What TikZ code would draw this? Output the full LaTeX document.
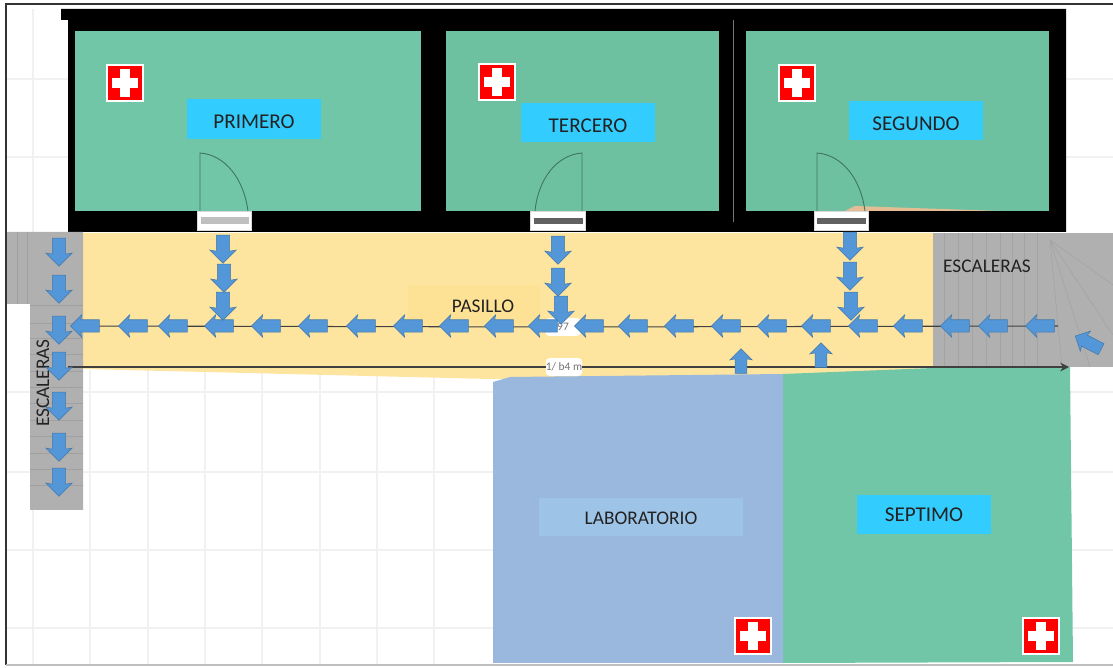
\documentclass[tikz,border=0pt]{standalone}
\usepackage{fontspec}
\setmainfont{Carlito}
\usetikzlibrary{arrows.meta}
\usetikzlibrary{shapes.arrows}
\definecolor{roomgreen}{HTML}{72C6A8}
\definecolor{roomgreenb}{HTML}{6EC1A0}
\definecolor{labblue}{HTML}{9AB7DD}
\definecolor{labbox}{HTML}{9DC3E6}
\definecolor{namebox}{HTML}{33CCFF}
\definecolor{hallyellow}{HTML}{FEE59F}
\definecolor{hallbox}{HTML}{FDE296}
\definecolor{stairgray}{HTML}{B0B0B0}
\definecolor{treadgray}{HTML}{A0A0A0}
\definecolor{flowblue}{HTML}{5497D8}
\definecolor{flowedge}{HTML}{4478A8}
\definecolor{gridgray}{HTML}{F1F1F1}
\definecolor{doorline}{HTML}{3E7466}
\definecolor{inkgray}{HTML}{222222}
\tikzset{
  namelabel/.style={fill=namebox,text=inkgray,font=\fontsize{12}{14}\selectfont,text height=11pt,text depth=0pt,
                    minimum width=76pt,minimum height=22.5pt,inner sep=0pt},
  plainlabel/.style={text=inkgray,font=\fontsize{11}{13}\selectfont,inner sep=0pt},
  flowarrow/.style={single arrow,fill=flowblue,draw=flowedge,line width=0.3pt,inner sep=0pt,
                    single arrow head indent=0.6pt},
  leftflow/.style={flowarrow,rotate=180,minimum height=16.5pt,text height=6.8pt,text depth=0pt,single arrow head extend=2.9pt},
  downflow/.style={flowarrow,rotate=-90,minimum height=16pt,text height=7.2pt,text depth=0pt,single arrow head extend=3.8pt},
  upflow/.style={flowarrow,rotate=90,minimum height=14pt,text height=6.4pt,text depth=0pt,single arrow head extend=3pt},
  grid line/.style={gridgray,line width=0.7pt},
  tread/.style={treadgray,line width=0.5pt},
  faint tread/.style={black!36,line width=0.3pt},
  doorswing/.style={doorline,line width=0.5pt},
  doorstep/.style={fill=white,draw=white!85!black,line width=0.4pt,minimum width=31pt,minimum height=11pt,inner sep=0pt},
  dimline/.style={draw=black!75,line width=0.6pt},
  measure/.style={fill=white,rounded corners=2pt,inner sep=0pt,text=black!55,font=\fontsize{6.5}{7}\selectfont,minimum width=20pt,minimum height=10pt},
  medcross/.pic={
    \fill [red,draw=white,line width=0.6pt] (-18,-18) rectangle (18,18);
    \fill [white] (-13,-5) rectangle (13,5);
    \fill [white] (-5,-14) rectangle (5,14);
  }
}
\begin{document}
\begin{tikzpicture}[x=0.02cm,y=-0.02cm]
\useasboundingbox (0,0) rectangle (1113,668);

% grid behind the plan
\draw [grid line] (6,79) -- (68,79) (1066,79) -- (1113,79);
\draw [grid line] (6,157) -- (68,157) (1066,157) -- (1113,157);
\draw [grid line] (6,392) -- (493,392) (1070,392) -- (1113,392);
\draw [grid line] (6,472) -- (493,472) (1070,472) -- (1113,472);
\draw [grid line] (6,550) -- (493,550) (1070,550) -- (1113,550);
\draw [grid line] (6,628) -- (493,628) (1070,628) -- (1113,628);
\draw [grid line] (33,9) -- (33,232) (33,510) -- (33,664);
\draw [grid line] (90,370) -- (90,664);
\draw [grid line] (148,370) -- (148,664);
\draw [grid line] (205,370) -- (205,664);
\draw [grid line] (262,370) -- (262,664);
\draw [grid line] (320,370) -- (320,664);
\draw [grid line] (377,370) -- (377,664);
\draw [grid line] (434,370) -- (434,664);

% walls and rooms
\fill [black] (61,9) -- (1066,9) -- (1066,232) -- (68,232) -- (68,20) -- (61,20) -- cycle;
\fill [roomgreen] (75,31) rectangle (421,211);
\fill [roomgreenb] (446,31) rectangle (719,211);
\fill [roomgreenb] (746,31) rectangle (1049,211);
\fill [orange!35!white!90!black] (845,211) -- (855,206) -- (1000,211) -- cycle;
\draw [black!55,line width=0.3pt] (733,20) -- (733,222);

% corridor, stairs and lower rooms
\fill [hallyellow] (83,233) -- (933,233) -- (933,368) -- (783,375) -- (490,379) -- (83,369) -- cycle;
\fill [hallbox] (408,285) rectangle (540,325);
\fill [stairgray] (7,232) -- (83,232) -- (83,510) -- (30,510) -- (30,304) -- (7,304) -- cycle;
\fill [stairgray] (933,233) rectangle (1113,367);
\fill [labblue] (493,382) -- (510,377) -- (783,374) -- (783,663) -- (493,663) -- cycle;
\fill [roomgreen] (783,374) -- (933,368) -- (1070,367) -- (1073,662) -- (783,663) -- cycle;

% stair treads
\draw [tread] (17,232) -- (17,304) (27,232) -- (27,304);
\draw [tread] (30,305) -- (83,305) (30,323) -- (83,323) (30,338) -- (83,338) (30,354) -- (83,354);
\draw [tread] (30,371) -- (83,371) (30,387) -- (83,387) (30,403) -- (83,403) (30,420) -- (83,420);
\draw [tread] (30,436) -- (83,436) (30,453) -- (83,453) (30,469) -- (83,469) (30,485) -- (83,485);
\draw [faint tread] (944,233) -- (944,367) (958,233) -- (958,367) (972,233) -- (972,367) (986,233) -- (986,367);
\draw [faint tread] (1000,233) -- (1000,367) (1012,233) -- (1012,367) (1024,233) -- (1024,367) (1037,233) -- (1037,367);
\draw [faint tread] (1050,240) -- (1062,367) (1050,240) -- (1090,367) (1050,240) -- (1113,335) (1050,240) -- (1113,285);

% doors
\node [doorstep] (doorA) at (224.5,221) {};
\node [doorstep] (doorB) at (558,221) {};
\node [doorstep] (doorC) at (841.5,221) {};
\fill [black!25] (201,217) rectangle (249,224);
\fill [black!62] (534,218) rectangle (583,224);
\fill [black!62] (817,218) rectangle (866,224);
\draw [doorswing] (200,211) -- (200,153) .. controls (226,155) and (244,180) .. (248,211);
\draw [doorswing] (582,211) -- (582,153) .. controls (556,155) and (538,180) .. (535,211);
\draw [doorswing] (817,211) -- (817,153) .. controls (843,155) and (861,180) .. (865,211);

% first aid marks
\pic at (125,83) {medcross};
\pic at (497,82) {medcross};
\pic at (797,83) {medcross};
\pic at (753,636) {medcross};
\pic at (1041,636) {medcross};

% room names
\begin{scope}[every node/.style={namelabel}]
    \node (primero) at (254,119) {PRIMERO};
    \node (tercero) at (588,122.5) {TERCERO};
    \node (segundo) at (916,120.5) {SEGUNDO};
    \node [text height=8.5pt] (septimo) at (924,514.5) {SEPTIMO};
\end{scope}
\node [fill=labbox,minimum width=116.5pt,minimum height=21.5pt,plainlabel,text height=9pt,text depth=0pt] (laboratorio) at (641,517) {LABORATORIO};
\node [plainlabel] (pasillo) at (483,306) {PASILLO};
\node [plainlabel] (escaleraE) at (987,266) {ESCALERAS};
\node [plainlabel,rotate=90] (escaleraW) at (43,383) {ESCALERAS};

% measuring lines
\coordinate (hallE) at (1058,326);
\coordinate (hallW) at (72,326);
\coordinate (dimW) at (68,367);
\coordinate (dimE) at (1069,367);
\node [measure] (midA) at (563,327) {97};
\node [measure] (midB) at (564,367) {1/ b4 m};
\draw [dimline,-{Stealth[length=5pt,width=5pt]}] (midA) -- (hallW);
\draw [dimline] (hallE) -- (midA);
\draw [dimline] (dimW) -- (midB);
\draw [dimline,-{Stealth[length=5pt,width=5pt]}] (midB) -- (dimE);

% way out along the corridor
\begin{scope}[every node/.style={leftflow}]
    \node (hall1) at (88,326) {};
    \node (hall2) at (136,326) {};
    \node (hall3) at (176,326) {};
    \node (hall4) at (222,326) {};
    \node (hall5) at (269,326) {};
    \node (hall6) at (316,326) {};
    \node (hall7) at (364,326) {};
    \node (hall8) at (411,326) {};
    \node (hall9) at (457,326) {};
    \node (hall10) at (502,326) {};
    \node (hall11) at (546,326) {};
    \node (hall12) at (592,326) {};
    \node (hall13) at (636,326) {};
    \node (hall14) at (682,326) {};
    \node (hall15) at (729,326) {};
    \node (hall16) at (775,326) {};
    \node (hall17) at (819,326) {};
    \node (hall18) at (866,326) {};
    \node (hall19) at (911,326) {};
    \node (hall20) at (958,326) {};
    \node (hall21) at (996,326) {};
    \node (hall22) at (1043,326) {};
    \node [rotate=-27] (entry) at (1091,344) {};
\end{scope}

\begin{scope}[every node/.style={downflow}]
    \node (stair1) at (59,249) {};
    \node (stair2) at (59,286) {};
    \node (stair3) at (59,327) {};
    \node (stair4) at (59,363) {};
    \node (stair5) at (59,403) {};
    \node (stair6) at (59,444) {};
    \node (stair7) at (59,479) {};
    \node (doorA1) at (223,246) {};
    \node (doorA2) at (224,275) {};
    \node (doorA3) at (223,303) {};
    \node (doorB1) at (558,247) {};
    \node (doorB2) at (558,279) {};
    \node (doorB3) at (561,307) {};
    \node (doorC1) at (850,243) {};
    \node (doorC2) at (850,273) {};
    \node (doorC3) at (851,303) {};
\end{scope}

\node [upflow] (labout) at (741,364) {};
\node [upflow] (septout) at (821,358) {};

% frame of the picture
\draw [black!80,line width=0.9pt] (1113,4) -- (6,4) -- (6,665);
\draw [black!25,line width=0.9pt] (6,665) -- (1113,665);
\end{tikzpicture}
\end{document}
